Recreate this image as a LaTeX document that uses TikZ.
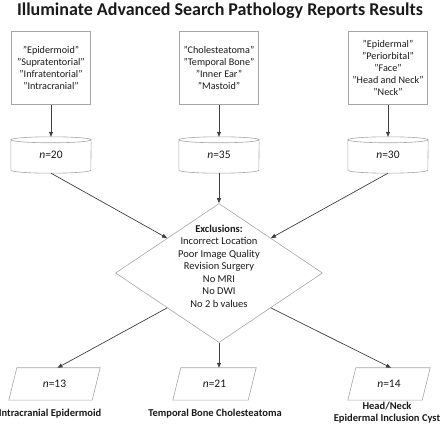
\documentclass[tikz,border=0pt]{standalone}
\usepackage{fontspec}
\setmainfont{Carlito}
\usetikzlibrary{shapes.geometric,arrows.meta,calc}
\definecolor{shapegray}{HTML}{A6A6A6}
\definecolor{arrowgray}{HTML}{404040}
\definecolor{txt}{HTML}{1A1A1A}
\begin{document}
\begin{tikzpicture}[x=1pt,y=-1pt,
  font=\fontsize{10.2}{11.8}\selectfont, text=txt,
  termbox/.style={draw=shapegray, line width=0.6pt, minimum width=79pt, minimum height=73pt, align=center, inner sep=0pt},
  cylbox/.style={minimum width=80pt, minimum height=36pt, inner sep=0pt, font=\fontsize{11.5}{12}\selectfont},
  outline/.style={draw=shapegray, line width=0.6pt},
  parbox/.style={minimum height=32pt, inner sep=0pt, font=\fontsize{11.5}{12}\selectfont},
  flow/.style={draw=arrowgray, line width=0.7pt, -{Triangle[length=5pt,width=4pt]}},
  lbl/.style={font=\fontsize{10.5}{12}\selectfont\bfseries, align=center}
]
\useasboundingbox (0,0) rectangle (440,425);
\node[font=\fontsize{18}{20}\selectfont\bfseries] (title) at (220,11) {Illuminate Advanced Search Pathology Reports Results};

% search term boxes
\node[termbox] (b1) at (51,68) {"Epidermoid"\\"Supratentorial"\\"Infratentorial"\\"Intracranial"};
\node[termbox] (b2) at (219,68) {"Cholesteatoma"\\"Temporal Bone"\\"Inner Ear"\\"Mastoid"};
\node[termbox] (b3) at (388,68) {"Epidermal"\\"Periorbital"\\"Face"\\"Head and Neck"\\"Neck"};

% cylinders
\node[cylbox] (c1) at (51,155) {\textit{n}=20};
\node[cylbox] (c2) at (219,155) {\textit{n}=35};
\node[cylbox] (c3) at (388,155) {\textit{n}=30};
\foreach \c in {c1,c2,c3}{
  \draw[outline] ($(\c.north)+(0,3)$) ellipse [x radius=40, y radius=3];
  \draw[outline] ($(\c.north west)+(0,3)$) -- ($(\c.south west)+(0,-3)$)
     arc[start angle=180, end angle=0, x radius=40, y radius=3]
     -- ($(\c.north east)+(0,3)$);
}

% exclusion diamond
\node[diamond, outline, minimum width=207pt, minimum height=139pt, inner sep=0pt] (ex) at (219,273) {};
\node[align=center, font=\fontsize{10.5}{12.5}\selectfont] (extext) at (219,266)
  {\textbf{Exclusions:}\\Incorrect Location\\Poor Image Quality\\Revision Surgery\\No MRI\\No DWI\\No 2 b values};

% result parallelograms
\node[parbox, minimum width=91pt] (p1) at (54.5,384) {\textit{n}=13};
\node[parbox, minimum width=83pt] (p2) at (214.5,384) {\textit{n}=21};
\node[parbox, minimum width=82pt] (p3) at (389,384) {\textit{n}=14};
\foreach \p in {p1,p2,p3}{
  \draw[outline] (\p.south west) -- ($(\p.north west)+(8,0)$) -- (\p.north east)
     -- ($(\p.south east)+(-8,0)$) -- cycle;
}

% labels
\node[lbl] (l1) at (50,414) {Intracranial Epidermoid};
\node[lbl] (l2) at (215,414) {Temporal Bone Cholesteatoma};
\node[lbl] (l3) at (387,413) {Head/Neck\\Epidermal Inclusion Cyst};

% connectors
\draw[flow] (b1.south) -- (c1.north);
\draw[flow] (b2.south) -- (c2.north);
\draw[flow] (b3.south) -- (c3.north);
\draw[flow] (c1.south) -- ($(ex.west)!0.5!(ex.north)$);
\draw[flow] (c2.south) -- (ex.north);
\draw[flow] (c3.south) -- ($(ex.east)!0.5!(ex.north)$);
\draw[flow] ($(ex.west)!0.5!(ex.south)$) -- ($(p1.north)+(3,0)$);
\draw[flow] (ex.south) -- ($(p2.north)+(4.5,0)$);
\draw[flow] ($(ex.east)!0.5!(ex.south)$) -- ($(p3.north)+(2,0)$);
\end{tikzpicture}
\end{document}
